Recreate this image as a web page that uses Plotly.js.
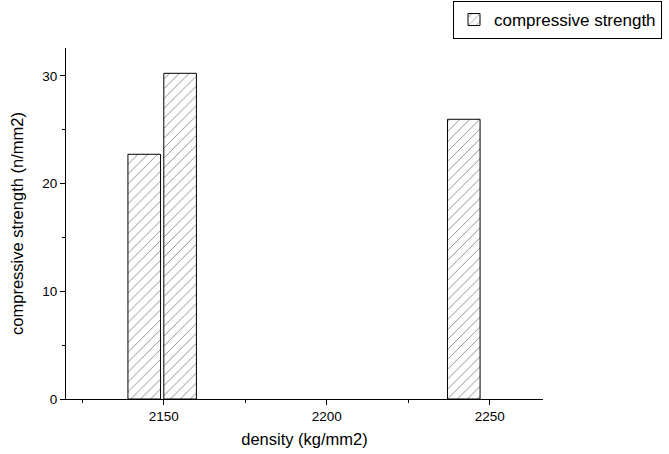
<!DOCTYPE html>
<html>
<head>
<meta charset="utf-8">
<script src="https://cdn.plot.ly/plotly-3.0.1.min.js"></script>
<style>html,body{margin:0;padding:0;background:#fff;}#chart{width:669px;height:454px;}</style>
</head>
<body>
<div id="chart"></div>
<script>
const densities = [2144, 2155, 2242];
const strengths = [22.73, 30.25, 25.98];
const seriesName = "compressive strength";
const xTicks = [2150, 2200, 2250];
const yTicks = [0, 10, 20, 30];

const trace = {
  type: "bar",
  x: densities,
  y: strengths,
  width: 10,
  name: seriesName,
  showlegend: true,
  marker: {
    color: "#ffffff",
    line: {color: "#000000", width: 1},
    pattern: {shape: "/", size: 7, solidity: 0.12, fgcolor: "#000000", bgcolor: "#ffffff", fillmode: "overlay"}
  }
};

const font = {family: "Liberation Sans, Arial, sans-serif", color: "#000"};

const layout = {
  width: 669, height: 454,
  margin: {l: 66, r: 126, t: 48, b: 55, autoexpand: false},
  paper_bgcolor: "#fff", plot_bgcolor: "#fff",
  font: font,
  showlegend: true,
  legend: {
    xref: "container", yref: "container",
    x: 453/669, y: 1 - 1/454, xanchor: "left", yanchor: "top",
    bordercolor: "#000", borderwidth: 1,
    font: {family: font.family, size: 17, color: "#000"},
    itemwidth: 30,
    tracegroupgap: 0
  },
  xaxis: {
    range: [2120, 2266.3],
    tickvals: xTicks, ticktext: xTicks.map(String),
    ticks: "outside", ticklen: 5, tickwidth: 1, tickcolor: "#000",
    minor: {dtick: 25, tick0: 2125, ticks: "outside", ticklen: 3, tickcolor: "#000", showgrid: false},
    showline: true, linecolor: "#000", linewidth: 1,
    showgrid: false, zeroline: false,
    tickfont: {size: 13.5},
    title: {text: "density (kg/mm2)", font: {size: 16.5}, standoff: 10}
  },
  yaxis: {
    range: [0, 32.6],
    tickvals: yTicks, ticktext: yTicks.map(String),
    ticks: "outside", ticklen: 5, tickwidth: 1, tickcolor: "#000",
    minor: {dtick: 5, tick0: 5, ticks: "outside", ticklen: 3, tickcolor: "#000", showgrid: false},
    showline: true, linecolor: "#000", linewidth: 1,
    showgrid: false, zeroline: false,
    tickfont: {size: 13.5},
    title: {text: "compressive strength (n/mm2)", font: {size: 16.5}, standoff: 14}
  }
};

Plotly.newPlot("chart", [trace], layout, {displayModeBar: false, staticPlot: true});
</script>
</body>
</html>
